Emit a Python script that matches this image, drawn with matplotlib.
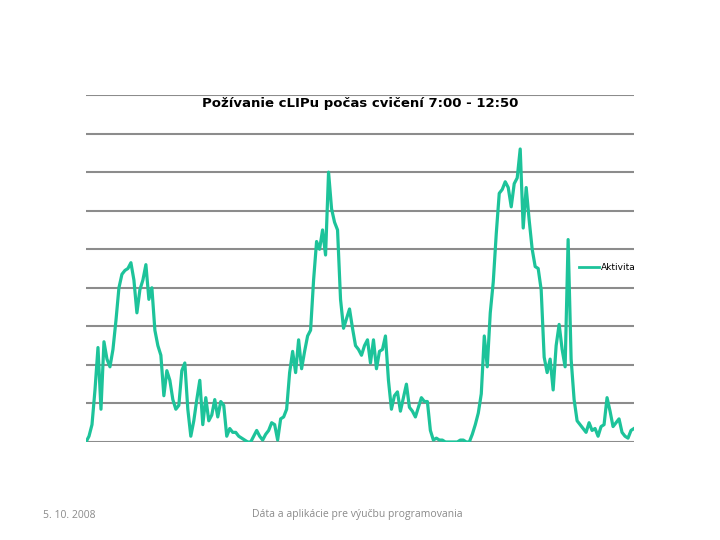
import matplotlib.pyplot as plt

# aktivita (počet požiadaviek) v 2-minútových intervaloch, 7:00 - 12:50
aktivita = [
    0, 3, 9, 27, 49, 17, 52, 43, 39, 48,
    63, 80, 87, 89, 90, 93, 84, 67, 79, 84,
    92, 74, 80, 58, 50, 45, 24, 37, 32, 22,
    17, 19, 37, 41, 17, 3, 11, 22, 32, 9,
    23, 11, 14, 22, 13, 21, 19, 3, 7, 5,
    5, 3, 2, 1, 0, 0, 3, 6, 3, 1,
    4, 6, 10, 9, 1, 12, 13, 17, 36, 47,
    36, 53, 38, 47, 55, 58, 84, 104, 100, 110,
    97, 140, 121, 114, 110, 74, 59, 64, 69, 59,
    50, 48, 45, 50, 53, 41, 53, 38, 47, 48,
    55, 32, 17, 24, 26, 16, 23, 30, 18, 16,
    13, 18, 23, 21, 21, 6, 1, 2, 1, 1,
    0, 0, 0, 0, 0, 1, 1, 0, 0, 4,
    9, 15, 25, 55, 39, 67, 83, 108, 129, 131,
    135, 132, 122, 134, 137, 152, 111, 132, 115, 100,
    91, 90, 79, 44, 36, 43, 27, 50, 61, 48,
    39, 105, 43, 22, 11, 9, 7, 5, 10, 6,
    7, 3, 8, 9, 23, 16, 8, 10, 12, 5,
    3, 2, 6, 7,
]
casy = list(range(len(aktivita)))
mriezka = list(range(0, 181, 20))

titulok = "Požívanie cLIPu počas cvičení 7:00 - 12:50"
datum = "5. 10. 2008"
pata = "Dáta a aplikácie pre výučbu programovania"

fig = plt.figure(figsize=(7.2, 5.4), dpi=100)
ax = fig.add_axes([86 / 720, 1 - 442 / 540, 548 / 720, 347 / 540])

# vodorovné čiary mriežky
for g in mriezka:
    ax.axhline(g, color='#8c8c8c', lw=1.5, zorder=1)

ax.plot(casy, aktivita, color='#1dc39a', lw=2.3, label='Aktivita',
        solid_joinstyle='round', zorder=3)

ax.set_xlim(0, len(aktivita) - 1)
ax.set_ylim(0, 180)
ax.set_xticks([])
ax.set_yticks([])
for s in ax.spines.values():
    s.set_visible(False)
ax.patch.set_visible(False)

fig.text(0.5, 1 - 103 / 540, titulok, ha='center', va='center',
         fontsize=9.5, fontweight='bold', family='DejaVu Sans')

leg = fig.legend(loc='center right', bbox_to_anchor=(636 / 720, 1 - 268 / 540),
                 frameon=False, fontsize=6.5, handlelength=2.3,
                 handletextpad=0.2, borderaxespad=0, borderpad=0)
leg.get_lines()[0].set_linewidth(2)

fig.text(43 / 720, 1 - 515 / 540, datum, ha='left', va='center',
         fontsize=7.5, color='#8a8a8a', family='Open Sans')
fig.text(357 / 720, 1 - 515 / 540, pata, ha='center', va='center',
         fontsize=7.5, color='#8a8a8a', family='Open Sans')

fig.savefig('out.png', dpi=100)
